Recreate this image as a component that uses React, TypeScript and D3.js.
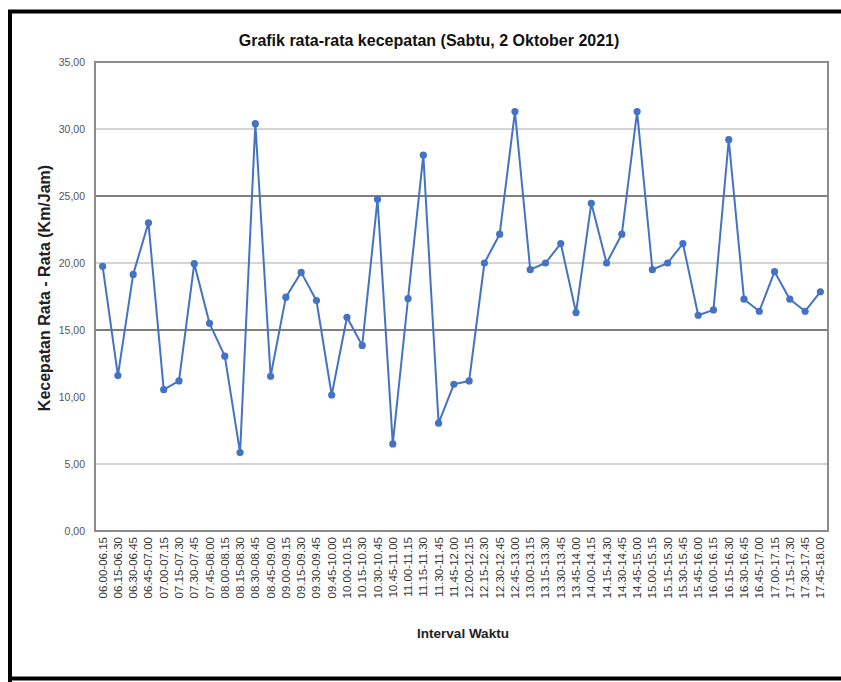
import React from "react";
import * as d3 from "d3";

const categories = [
  "06.00-06.15","06.15-06.30","06.30-06.45","06.45-07.00",
  "07.00-07.15","07.15-07.30","07.30-07.45","07.45-08.00",
  "08.00-08.15","08.15-08.30","08.30-08.45","08.45-09.00",
  "09.00-09.15","09.15-09.30","09.30-09.45","09.45-10.00",
  "10.00-10.15","10.15-10.30","10.30-10.45","10.45-11.00",
  "11.00-11.15","11.15-11.30","11.30-11.45","11.45-12.00",
  "12.00-12.15","12.15-12.30","12.30-12.45","12.45-13.00",
  "13.00-13.15","13.15-13.30","13.30-13.45","13.45-14.00",
  "14.00-14.15","14.15-14.30","14.30-14.45","14.45-15.00",
  "15.00-15.15","15.15-15.30","15.30-15.45","15.45-16.00",
  "16.00-16.15","16.15-16.30","16.30-16.45","16.45-17.00",
  "17.00-17.15","17.15-17.30","17.30-17.45","17.45-18.00",
];

const speeds = [
  19.75, 11.6, 19.15, 23.0, 10.55, 11.2, 19.95, 15.5,
  13.05, 5.85, 30.4, 11.55, 17.45, 19.3, 17.2, 10.15,
  15.95, 13.85, 24.75, 6.5, 17.35, 28.05, 8.05, 10.95,
  11.2, 20.0, 22.15, 31.3, 19.5, 20.0, 21.45, 16.3,
  24.45, 20.0, 22.15, 31.3, 19.5, 20.0, 21.45, 16.1,
  16.5, 29.2, 17.3, 16.4, 19.35, 17.3, 16.4, 17.85,
];

const yTicks = [0, 5, 10, 15, 20, 25, 30, 35];
const darkGrid = [25, 15];
const lightGrid = [30, 20, 5];

const title = "Grafik rata-rata kecepatan (Sabtu, 2 Oktober 2021)";
const yTitle = "Kecepatan Rata - Rata (Km/Jam)";
const xTitle = "Interval Waktu";

const W = 841, H = 682;
const plot = { left: 95, right: 828, top: 62, bottom: 531 };
const font = "'Liberation Sans Narrow', 'Arial Narrow', 'Liberation Sans', Arial, sans-serif";

export default function App() {
  const x = d3.scaleBand<string>().domain(categories).range([plot.left, plot.right]);
  const y = d3.scaleLinear().domain([0, 35]).range([plot.bottom, plot.top]);
  const cx = (c: string) => (x(c) as number) + x.bandwidth() / 2;
  const line = d3.line<number>().x((_, i) => cx(categories[i])).y((d) => y(d));
  const fmt = (v: number) => v.toFixed(2).replace(".", ",");

  return (
    <svg width={W} height={H} style={{ position: "absolute", left: 0, top: 0, background: "#fff" }}>
      <rect x={0} y={0} width={W} height={H} fill="#fff" />
      {/* outer frame */}
      <path d={`M10,${H + 5} L10,11.5 L${W + 5},11.5`} fill="none" stroke="#000" strokeWidth={4} />
      <line x1={8} x2={W + 5} y1={678.5} y2={678.5} stroke="#000" strokeWidth={4} />

      <text x={429} y={46} textAnchor="middle" fontFamily={font} fontWeight="bold" fontSize={16} fill="#111">
        {title}
      </text>

      {/* grid */}
      {lightGrid.map((v) => (
        <line key={"l" + v} x1={plot.left} x2={plot.right} y1={y(v)} y2={y(v)} stroke="#d4d4d4" strokeWidth={2} />
      ))}
      {darkGrid.map((v) => (
        <line key={"d" + v} x1={plot.left} x2={plot.right} y1={y(v)} y2={y(v)} stroke="#7f7f7f" strokeWidth={2} />
      ))}
      {/* plot frame */}
      <rect x={plot.left} y={plot.top} width={plot.right - plot.left} height={plot.bottom - plot.top}
        fill="none" stroke="#8c8c8c" strokeWidth={2} />

      {/* y ticks */}
      {yTicks.map((v) => (
        <text key={"yt" + v} x={85} y={y(v) + 3.5} textAnchor="end" fontFamily={font} fontSize={10.5} fill="#555">
          {fmt(v)}
        </text>
      ))}
      <text transform={`translate(50,${288}) rotate(-90)`} textAnchor="middle"
        fontFamily={font} fontWeight="bold" fontSize={16} fill="#222">
        {yTitle}
      </text>

      {/* x ticks */}
      {categories.map((c) => (
        <text key={c} transform={`translate(${cx(c) + 4},${plot.bottom + 6}) rotate(-90)`} textAnchor="end"
          fontFamily={font} fontSize={11.5} fill="#333">
          {c}
        </text>
      ))}
      <text x={463} y={638} textAnchor="middle" fontFamily={font} fontWeight="bold" fontSize={13.5} fill="#222">
        {xTitle}
      </text>

      {/* series */}
      <path d={line(speeds) || ""} fill="none" stroke="#4472C4" strokeWidth={2} strokeLinejoin="round" />
      {speeds.map((v, i) => (
        <circle key={"p" + i} cx={cx(categories[i])} cy={y(v)} r={3.6} fill="#4472C4" />
      ))}
    </svg>
  );
}
